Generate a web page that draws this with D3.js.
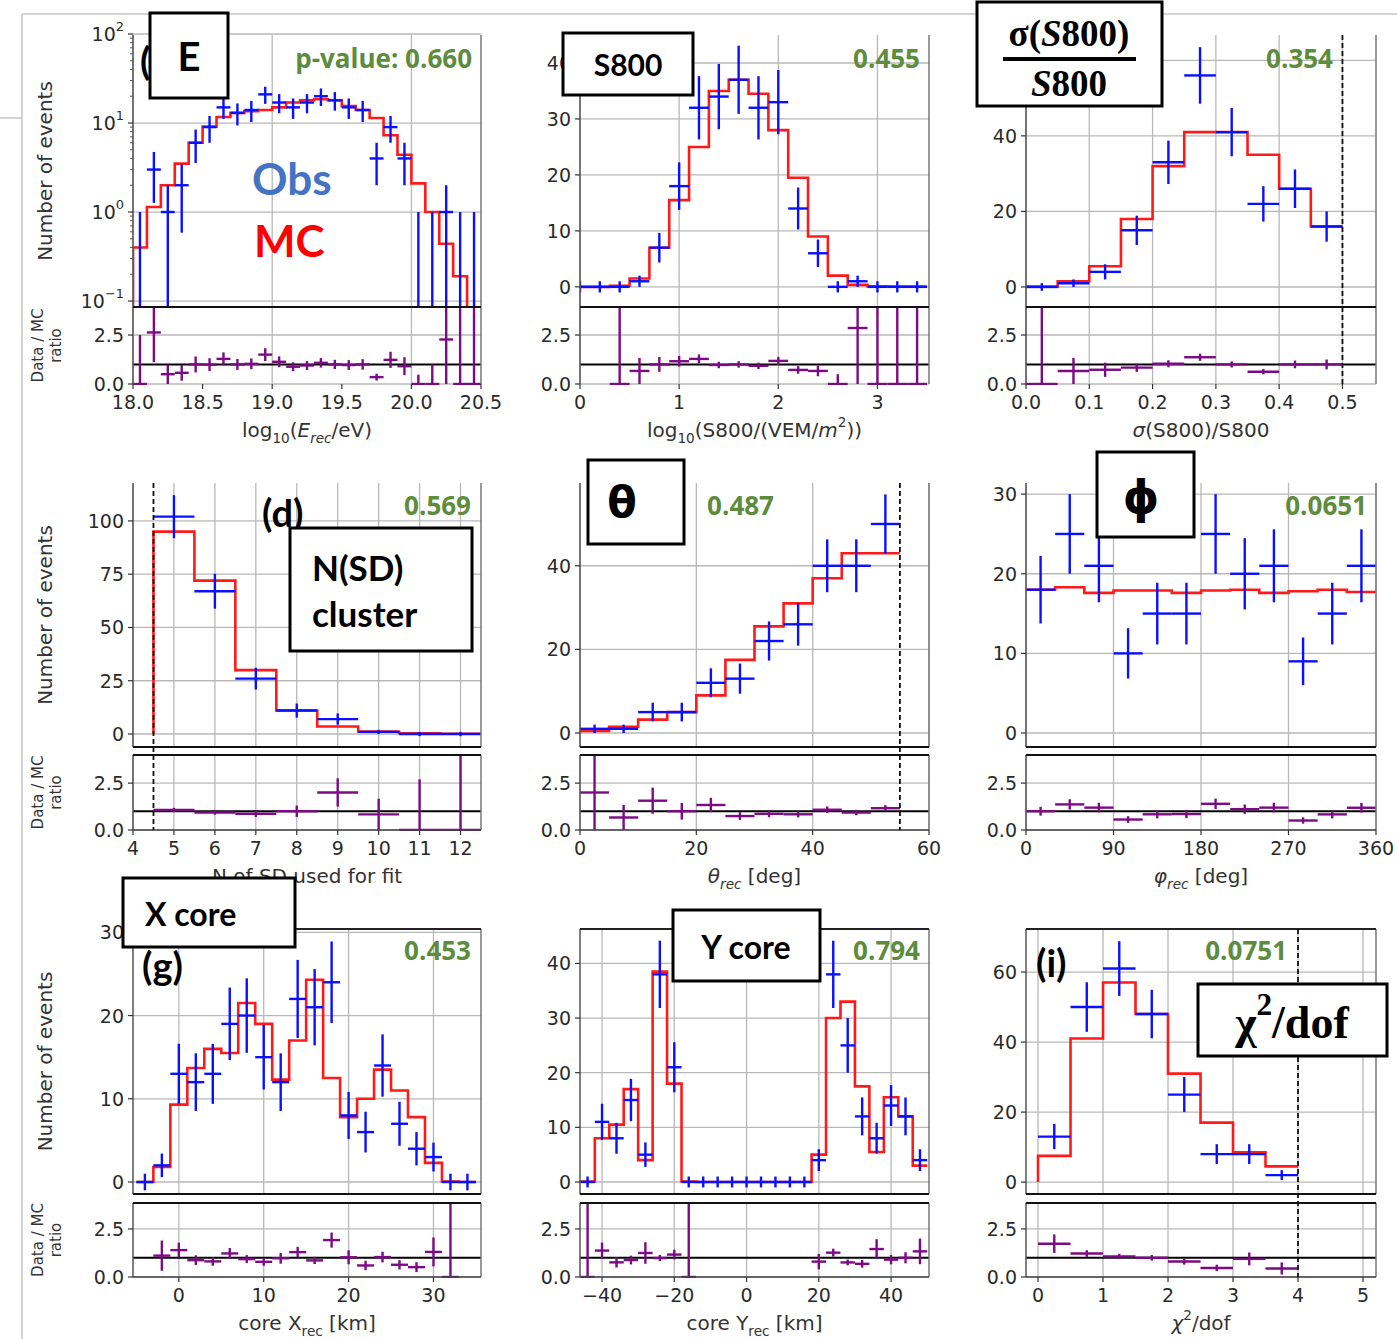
<!DOCTYPE html>
<html><head><meta charset="utf-8">
<script src="https://cdn.jsdelivr.net/npm/d3@7"></script>
<style>body{margin:0;background:#fff}svg{display:block}</style>
</head><body>
<svg id="c" width="1397" height="1339"></svg>
<script>
// ---------------- DATA ----------------
// (a) log10(E_rec/eV): bins of 0.1 from 18.0
const eObs = [0,3,1,2,6,9,15,13,14,21,17,15,17,20,18,15,14,4,9,4,0,0,1,0,0];
const eMC  = [0.4,1.14,2.0,3.5,6.0,9.1,11.7,13,13.6,14,15,17,18,18.5,18,15.5,14,11.4,7.3,4.4,2.1,1.0,0.44,0.19,0.05];
// (b) log10(S800): bins of 0.2 from -0.1
const s8Obs = [0,0,0,1,7,18,32,34,37,32,33,14,6,0,1,0,0,0];
const s8MC  = [0,0,0.2,1.5,7,15.5,25,35,37,34.5,28,19.5,9,2,0.35,0.1,0.05,0.05];
// (c) sigma(S800)/S800: bins of 0.05 from 0
const sgObs = [0,1,4,15,33,56,41,22,26,16];
const sgMC  = [0.1,1.5,5.5,18,32,41,41,35,26,16];
// (d) N of SD: bins of 1 from 4.5
const nObs = [102,67,26,11,7,1,0,0];
const nMC  = [95,72,30,11,3.5,1.2,0.37,0.1];
// (e) theta: bins of 5 deg from 0
const thObs = [1,1,5,5,12,13,22,26,40,40,50];
const thMC  = [0.5,1.5,3.2,5,9,17.5,25.5,31,37,43,43];
// (f) phi: bins of 30 deg from 0
const phObs = [18,25,21,10,15,15,25,20,21,9,15,21];
const phMC  = [18,18.3,17.6,17.9,17.9,17.6,17.9,18,17.6,17.8,18,17.7];
// (g) core X: bins of 2 km from -5
const cxObs = [0,2,13,12,13,19,20,15,12,22,21,24,8,6,14,7,4,3,0,0];
const cxMC  = [0,1.8,9.3,13.7,16,15.5,21.5,19,12.3,17,24.3,12.5,7.8,10,13.5,11,7.8,2.3,0.05,0];
// (h) core Y: bins of 4 km from -46
const cyObs = [0,11,8,15,5,38,21,0,0,0,0,0,0,0,0,0,4,38,25,12,8,14,12,4];
const cyMC  = [0.1,8,10.5,17,4,38.5,18,0.1,0,0,0,0,0,0,0,0,5,30,33,17.5,5.5,15.5,12,3];
// (i) chi2/dof: bins of 0.5 from 0
const chObs = [13,50,61,48,25,8,8,2];
const chMC  = [7.5,41,57,48,31,17,8.5,4.5];
// p-values
const pValues = ["p-value: 0.660","0.455","0.354","0.569","0.487","0.0651","0.453","0.794","0.0751"];
// tick values
const eTicks=[18,18.5,19,19.5,20,20.5], s8Ticks=[0,1,2,3], sgTicks=[0,0.1,0.2,0.3,0.4,0.5],
      nTicks=[4,5,6,7,8,9,10,11,12], thTicks=[0,20,40,60], phTicks=[0,90,180,270,360],
      cxTicks=[0,10,20,30], cyTicks=[-40,-20,0,20,40], chTicks=[0,1,2,3,4,5];
const ratioTicks=[0,2.5];

// ---------------- LAYOUT ----------------
const svg=d3.select('#c');
const defs=svg.append('defs');
const rows=[{mt:35,mb:307,rt:307,rb:384,rTop:3.93,topSpine:false,ratBox:false},
            {mt:483,mb:747,rt:755,rb:830,rTop:4.0,topSpine:false,ratBox:true},
            {mt:929,mb:1194,rt:1203,rb:1277,rTop:3.85,topSpine:true,ratBox:true}];
const cols=[{x0:133,x1:481},{x0:580,x1:929},{x0:1026,x1:1376}];
const TICKFONT='DejaVu Sans';
const gridC='#b8b8b8';

// frame lines of the page
svg.append('line').attr('x1',22).attr('x2',1397).attr('y1',14).attr('y2',14).attr('stroke','#c4c4c4').attr('stroke-width',1.5);
svg.append('line').attr('x1',22).attr('x2',22).attr('y1',14).attr('y2',1339).attr('stroke','#c4c4c4').attr('stroke-width',1.5);
svg.append('line').attr('x1',0).attr('x2',22).attr('y1',118).attr('y2',118).attr('stroke','#c4c4c4').attr('stroke-width',1.5);

function rich(t,parts){
  parts.forEach(([s,k])=>{
    const ts=t.append('tspan').text(s);
    if(k==='sub') ts.attr('baseline-shift','sub').attr('font-size','68%');
    if(k==='sup') ts.attr('baseline-shift','super').attr('font-size','68%');
    if(k==='it') ts.attr('font-style','italic');
    if(k==='itsub') ts.attr('baseline-shift','sub').attr('font-size','68%').attr('font-style','italic');
  });
  return t;
}

const panels=[
 {id:'a',row:0,col:0,log:true,xd:[18,20.5],yd:[0.0857,97.5],b0:18.0,bw:0.1,obs:eObs,mc:eMC,xt:eTicks,gx:[18,19,20],xf:d3.format('.1f'),
  yt:[0.1,1,10,100],xl:[['log'],['10','sub'],['('],['E','it'],['rec','itsub'],['/eV)']]},
 {id:'b',row:0,col:1,xd:[0,3.52],yd:[-3.6,45],b0:-0.1,bw:0.2,obs:s8Obs,mc:s8MC,xt:s8Ticks,xf:d3.format('d'),
  yt:[0,10,20,30,40],xl:[['log'],['10','sub'],['(S800/(VEM/'],['m','it'],['2','sup'],['))']]},
 {id:'c',row:0,col:2,xd:[0,0.553],yd:[-5.3,66.7],b0:0,bw:0.05,obs:sgObs,mc:sgMC,xt:sgTicks,xf:d3.format('.1f'),
  yt:[0,20,40,60],dash:0.5,xl:[['σ','it'],['(S800)/S800']]},
 {id:'d',row:1,col:0,xd:[4,12.5],yd:[-6.1,117.8],b0:4.5,bw:1,obs:nObs,mc:nMC,xt:nTicks,xf:d3.format('d'),
  yt:[0,25,50,75,100],dash:4.5,xl:[['N of SD used for fit']]},
 {id:'e',row:1,col:1,xd:[0,60],yd:[-3.35,59.8],b0:0,bw:5,obs:thObs,mc:thMC,xt:thTicks,xf:d3.format('d'),
  yt:[0,20,40],dash:55,xl:[['θ','it'],['rec','itsub'],[' [deg]']]},
 {id:'f',row:1,col:2,noDrop:true,xd:[0,360],yd:[-1.76,31.4],b0:0,bw:30,obs:phObs,mc:phMC,xt:phTicks,xf:d3.format('d'),
  yt:[0,10,20,30],xl:[['φ','it'],['rec','itsub'],[' [deg]']]},
 {id:'g',row:2,col:0,xd:[-5.4,35.6],yd:[-1.44,30.4],b0:-5,bw:2,obs:cxObs,mc:cxMC,xt:cxTicks,xf:d3.format('d'),
  yt:[0,10,20,30],xl:[['core X'],['rec','sub'],[' [km]']]},
 {id:'h',row:2,col:1,xd:[-46.1,50.5],yd:[-2.2,46.3],b0:-46,bw:4,obs:cyObs,mc:cyMC,xt:cyTicks,xf:v=>(v<0?'\u2212':'')+Math.abs(v),
  yt:[0,10,20,30,40],xl:[['core Y'],['rec','sub'],[' [km]']]},
 {id:'i',row:2,col:2,xd:[-0.185,5.2],yd:[-3.4,72.3],b0:0,bw:0.5,obs:chObs,mc:chMC,xt:chTicks,xf:d3.format('d'),
  yt:[0,20,40,60],dash:4,xl:[['χ','it'],['2','sup'],['/dof']]}
];

function drawPanel(p){
  const R=rows[p.row], C=cols[p.col];
  const g=svg.append('g');
  const x=d3.scaleLinear().domain(p.xd).range([C.x0,C.x1]);
  const y=(p.log?d3.scaleLog():d3.scaleLinear()).domain(p.yd).range([R.mb,R.mt]);
  const r=d3.scaleLinear().domain([0,R.rTop]).range([R.rb,R.rt]);
  const yv=v=>p.log?(v>0?y(v):R.mb+30):y(v);
  const cm='cm'+p.id, cr='cr'+p.id;
  defs.append('clipPath').attr('id',cm).append('rect').attr('x',C.x0).attr('y',R.mt).attr('width',C.x1-C.x0).attr('height',R.mb-R.mt);
  defs.append('clipPath').attr('id',cr).append('rect').attr('x',C.x0).attr('y',R.rt).attr('width',C.x1-C.x0).attr('height',R.rb-R.rt+1);

  // grids
  (p.gx||p.xt).forEach(v=>{
    [[R.mt,R.mb],[R.rt,R.rb]].forEach(([a,b])=>g.append('line').attr('x1',x(v)).attr('x2',x(v)).attr('y1',a).attr('y2',b).attr('stroke',gridC).attr('stroke-width',1.3));
  });
  p.yt.forEach(v=>g.append('line').attr('x1',C.x0).attr('x2',C.x1).attr('y1',y(v)).attr('y2',y(v)).attr('stroke',gridC).attr('stroke-width',1.3));
  ratioTicks.forEach(v=>g.append('line').attr('x1',C.x0).attr('x2',C.x1).attr('y1',r(v)).attr('y2',r(v)).attr('stroke',gridC).attr('stroke-width',1.3));

  const edges=d3.range(p.mc.length+1).map(i=>p.b0+i*p.bw);
  const gm=g.append('g').attr('clip-path',`url(#${cm})`);
  // MC step
  const pts=p.noDrop?[]:[[edges[0],0]];
  p.mc.forEach((v,i)=>{pts.push([edges[i],v]);pts.push([edges[i+1],v]);});
  gm.append('path').attr('d',d3.line().x(d=>x(d[0])).y(d=>yv(d[1]))(pts))
    .attr('fill','none').attr('stroke','#ff1a1a').attr('stroke-width',2.6);
  // Obs crosses
  p.obs.forEach((v,i)=>{
    const c=(edges[i]+edges[i+1])/2, e=v>0?Math.sqrt(v):1;
    if(!(p.log&&v<=0)) gm.append('line').attr('x1',x(edges[i])).attr('x2',x(edges[i+1])).attr('y1',yv(v)).attr('y2',yv(v)).attr('stroke','#0a10ff').attr('stroke-width',2.4);
    gm.append('line').attr('x1',x(c)).attr('x2',x(c)).attr('y1',yv(v-e)).attr('y2',yv(v+e)).attr('stroke','#0a10ff').attr('stroke-width',2.4);
  });
  // ratio
  const gr=g.append('g').attr('clip-path',`url(#${cr})`);
  gr.append('line').attr('x1',C.x0).attr('x2',C.x1).attr('y1',r(1)).attr('y2',r(1)).attr('stroke','#000').attr('stroke-width',2);
  p.obs.forEach((v,i)=>{
    const m=p.mc[i]; if(!(m>0)) return;
    const c=(edges[i]+edges[i+1])/2, rv=v/m, re=(v>0?Math.sqrt(v):1)/m;
    gr.append('line').attr('x1',x(edges[i])).attr('x2',x(edges[i+1])).attr('y1',r(rv)).attr('y2',r(rv)).attr('stroke','#7d0a85').attr('stroke-width',2.4);
    gr.append('line').attr('x1',x(c)).attr('x2',x(c)).attr('y1',r(Math.max(rv-re,0))).attr('y2',r(Math.min(rv+re,R.rTop+1))).attr('stroke','#7d0a85').attr('stroke-width',2.4);
  });

  // spines
  const ln=(x1,y1,x2,y2,col,w)=>g.append('line').attr('x1',x1).attr('y1',y1).attr('x2',x2).attr('y2',y2).attr('stroke',col).attr('stroke-width',w);
  ln(C.x0,R.mt,C.x0,R.mb,'#555',1.5); ln(C.x1,R.mt,C.x1,R.mb,'#777',1.5);
  ln(C.x0,R.rt,C.x0,R.rb,'#555',1.5); ln(C.x1,R.rt,C.x1,R.rb,'#777',1.5);
  ln(C.x0,R.mb,C.x1,R.mb,'#111',2);
  if(R.rt!==R.mb) ln(C.x0,R.rt,C.x1,R.rt,'#111',2);
  if(R.topSpine) ln(C.x0,R.mt,C.x1,R.mt,'#222',2);
  if(R.ratBox) ln(C.x0,R.rb,C.x1,R.rb,'#444',1.5);
  if(p.dash!==undefined) ln(x(p.dash),R.mt,x(p.dash),R.rb,'#111',1.8).attr('stroke-dasharray','5,3');

  const tk=(xx,yy,anchor)=>g.append('text').attr('x',xx).attr('y',yy).attr('text-anchor',anchor).attr('dominant-baseline','central')
      .attr('font-family',TICKFONT).attr('font-size',19).attr('fill','#2a2a2a');
  // y ticks
  p.yt.forEach(v=>{
    ln(C.x0-5,y(v),C.x0,y(v),'#333',1.2);
    const t=tk(C.x0-9,y(v),'end');
    if(p.log){ rich(t,[['10'],[String(Math.round(Math.log10(v))).replace('-','\u2212'),'sup']]); }
    else t.text(v);
  });
  if(p.log){
    [0.1,1,10].forEach(d=>{for(let k=2;k<10;k++){const v=d*k; if(v<p.yd[1]) ln(C.x0-3,y(v),C.x0,y(v),'#555',1);}});
  }
  ratioTicks.forEach(v=>{
    ln(C.x0-5,r(v),C.x0,r(v),'#333',1.2);
    tk(C.x0-9,r(v),'end').text(d3.format('.1f')(v));
  });
  // x ticks
  p.xt.forEach(v=>{
    ln(x(v),R.rb,x(v),R.rb+5,'#333',1.2);
    tk(x(v),R.rb+18,'middle').text(p.xf(v));
  });
  // x label
  const xt=g.append('text').attr('x',(C.x0+C.x1)/2).attr('y',R.rb+46).attr('text-anchor','middle').attr('dominant-baseline','central')
    .attr('font-family',TICKFONT).attr('font-size',20).attr('fill','#333');
  rich(xt,p.xl);
  // y labels (first column)
  if(p.col===0){
    const cy=(R.mt+R.mb)/2;
    g.append('text').attr('transform',`translate(45,${cy}) rotate(-90)`).attr('text-anchor','middle').attr('dominant-baseline','central')
      .attr('font-family',TICKFONT).attr('font-size',20).attr('fill','#333').text('Number of events');
    const cr2=(R.rt+R.rb)/2;
    g.append('text').attr('transform',`translate(38,${cr2}) rotate(-90)`).attr('text-anchor','middle').attr('dominant-baseline','central')
      .attr('font-family',TICKFONT).attr('font-size',15).attr('fill','#333').text('Data / MC');
    g.append('text').attr('transform',`translate(56,${cr2}) rotate(-90)`).attr('text-anchor','middle').attr('dominant-baseline','central')
      .attr('font-family',TICKFONT).attr('font-size',15).attr('fill','#333').text('ratio');
  }
}
panels.forEach(drawPanel);

// ---------------- ANNOTATIONS ----------------
const ann=svg.append('g');
const pvPos=[[472,58],[920,58],[1333,58],[471,505],[774,505],[1367,505],[471,950],[920,950],[1287,950]];
pValues.forEach((s,i)=>ann.append('text').attr('x',pvPos[i][0]).attr('y',pvPos[i][1]).attr('text-anchor','end').attr('dominant-baseline','central')
  .attr('font-family','Open Sans').attr('font-weight','bold').attr('font-size',26).attr('fill','#5c8c3c').text(s));

const big=(s,xx,yy,opt={})=>ann.append('text').attr('x',xx).attr('y',yy).attr('text-anchor',opt.anchor||'start').attr('dominant-baseline','central')
  .attr('font-family',opt.font||'Lato').attr('font-weight','bold').attr('font-size',opt.size||36).attr('fill',opt.fill||'#000').text(s);
// panel letters (partly hidden behind the boxes)
big('(a)',140,60,{size:38});
big('(d)',262,512,{size:38});
big('(g)',142,965,{size:38});
big('(i)',1036,962,{size:38});
big('Obs',252,178,{size:44,fill:'#4472c4'});
big('MC',254,240,{size:44,fill:'#ff0000'});

const box=(bx,by,bw,bh)=>ann.append('rect').attr('x',bx).attr('y',by).attr('width',bw).attr('height',bh).attr('fill','#fff').attr('stroke','#000').attr('stroke-width',3);
box(150,13,78,85); big('E',189,56,{anchor:'middle',size:40});
box(563,33,130,62); big('S800',628,64,{anchor:'middle',size:30});
box(977,2,185,104);
const num=ann.append('text').attr('x',1069).attr('y',33).attr('text-anchor','middle').attr('dominant-baseline','central')
  .attr('font-family','Liberation Serif').attr('font-weight','bold').attr('font-size',37);
rich(num,[['σ('],['S','it'],['800)']]);
ann.append('line').attr('x1',1003).attr('x2',1136).attr('y1',59).attr('y2',59).attr('stroke','#000').attr('stroke-width',4);
const den=ann.append('text').attr('x',1069).attr('y',83).attr('text-anchor','middle').attr('dominant-baseline','central')
  .attr('font-family','Liberation Serif').attr('font-weight','bold').attr('font-size',37);
rich(den,[['S','it'],['800']]);
box(290,528,182,123); big('N(SD)',312,567,{size:35}); big('cluster',312,613,{size:35});
box(588,460,96,84); big('θ',622,502,{anchor:'middle',size:43,font:'DejaVu Sans'});
box(1097,452,97,85); big('ϕ',1141,497,{anchor:'middle',size:46,font:'DejaVu Sans'});
box(123,878,172,69); big('X core',145,913,{size:32});
box(673,910,147,71); big('Y core',746,946,{anchor:'middle',size:32});
box(1198,984,189,72);
const chi=ann.append('text').attr('x',1292).attr('y',1022).attr('text-anchor','middle').attr('dominant-baseline','central')
  .attr('font-family','Liberation Serif').attr('font-weight','bold').attr('font-size',46);
rich(chi,[['χ'],['2','sup'],['/dof']]);
</script>
</body></html>
